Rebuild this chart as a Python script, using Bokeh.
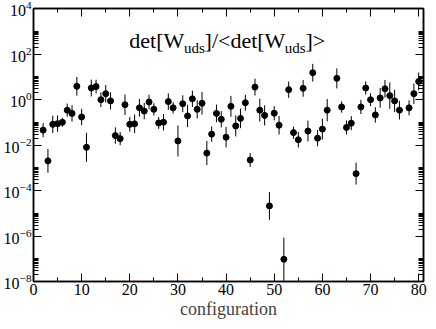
from bokeh.plotting import figure
from bokeh.models import FixedTicker, LinearAxis, LogAxis, Label, ColumnDataSource, CustomLabelingPolicy
from bokeh.embed import file_html
from bokeh.resources import INLINE

# configuration index
config = [2, 3, 4, 5, 6, 7, 8, 9, 10, 11, 12, 13, 14, 15, 16, 17, 18, 19, 20, 21,
          22, 23, 24, 25, 26, 27, 28, 29, 30, 31, 32, 33, 34, 35, 36, 37, 38, 39, 40, 41,
          42, 43, 44, 45, 46, 47, 48, 49, 50, 51, 52, 53, 54, 55, 56, 57, 58, 59, 60, 61,
          63, 64, 65, 66, 67, 68, 69, 70, 71, 72, 73, 74, 75, 76, 78, 79, 80]
# det[W_uds]/<det[W_uds]>
ratio = [0.045, 0.002, 0.081, 0.087, 0.10, 0.34, 0.245, 3.8, 0.17, 0.0079, 3.2, 3.7, 0.98, 1.8, 0.87, 0.026, 0.019, 0.59, 0.081, 0.085,
         0.43, 0.31, 0.78, 0.37, 0.093, 0.10, 0.81, 0.43, 0.015, 0.65, 0.19, 1.07, 0.37, 0.68, 0.0044, 0.030, 0.245, 0.135, 0.022, 0.50,
         0.069, 0.148, 0.72, 0.0022, 3.5, 0.34, 0.20, 2.1e-5, 0.25, 0.074, 9.5e-8, 2.7, 0.035, 0.017, 3.1, 0.041, 15.0, 0.020, 0.050, 0.34,
         8.5, 0.47, 0.059, 0.091, 0.00055, 0.47, 3.2, 0.98, 0.21, 1.17, 2.95, 1.48, 0.87, 0.34, 0.43, 1.8, 6.2]
# error half-length in decades
err_dec = [0.31, 0.52, 0.38, 0.36, 0.20, 0.29, 0.36, 0.41, 0.36, 0.64, 0.37, 0.30, 0.32, 0.38, 0.38, 0.36, 0.29, 0.45, 0.32, 0.41,
           0.39, 0.36, 0.32, 0.27, 0.26, 0.36, 0.36, 0.25, 0.68, 0.37, 0.49, 0.36, 0.40, 0.50, 0.53, 0.34, 0.39, 0.36, 0.45, 0.46,
           0.46, 0.43, 0.35, 0.31, 0.37, 0.50, 0.44, 0.61, 0.31, 0.41, 0.95, 0.36, 0.27, 0.34, 0.37, 0.46, 0.39, 0.36, 0.46, 0.49,
           0.44, 0.25, 0.31, 0.31, 0.48, 0.31, 0.29, 0.28, 0.34, 0.43, 0.39, 0.58, 0.49, 0.41, 0.33, 0.45, 0.39]

x_ticks = [0, 10, 20, 30, 40, 50, 60, 70, 80]
x_minor = [5, 15, 25, 35, 45, 55, 65, 75]
y_ticks = [1e-8, 1e-6, 1e-4, 1e-2, 1e0, 1e2, 1e4]
y_minor = [k * 10.0 ** n for n in range(-8, 4, 2) for k in range(2, 11)]

lo = [v / 10 ** e for v, e in zip(ratio, err_dec)]
hi = [v * 10 ** e for v, e in zip(ratio, err_dec)]
src = ColumnDataSource(dict(x=config, y=ratio, lo=lo, hi=hi))

FONT = "Liberation Serif"

p = figure(width=428, height=321, y_axis_type="log", x_range=(0, 81), y_range=(1e-8, 1e4),
           output_backend="svg", toolbar_location=None, x_axis_location=None, y_axis_location=None,
           min_border_left=24, min_border_right=5, min_border_top=8, min_border_bottom=30)
p.grid.visible = False
p.outline_line_color = "black"
p.outline_line_width = 1.5
p.background_fill_color = "white"
p.border_fill_color = "white"

NO_LABELS = "for (const i of Array.from(indices)) { indices.unset(i) }\nreturn indices"

def style(ax, labels=True):
    ax.axis_line_color = "black"
    ax.axis_line_width = 1.5
    ax.major_tick_in = 8
    ax.major_tick_out = 0
    ax.minor_tick_in = 4
    ax.minor_tick_out = 0
    ax.major_tick_line_color = "black"
    ax.minor_tick_line_color = "black"
    ax.major_label_text_font = FONT
    ax.major_label_text_color = "black"
    if labels:
        ax.major_label_text_font_size = "16px"
        ax.major_label_standoff = 2
    else:
        ax.major_label_text_font_size = "1px"
        ax.major_label_standoff = 0
        ax.major_label_policy = CustomLabelingPolicy(code=NO_LABELS)

xb = LinearAxis(ticker=FixedTicker(ticks=x_ticks, minor_ticks=x_minor))
style(xb)
xb.axis_label = "configuration"
xb.axis_label_text_font = FONT
xb.axis_label_text_font_style = "normal"
xb.axis_label_text_font_size = "18px"
xb.axis_label_standoff = 1
xt = LinearAxis(ticker=FixedTicker(ticks=x_ticks, minor_ticks=x_minor))
style(xt, labels=False)
yl = LogAxis(ticker=FixedTicker(ticks=y_ticks, minor_ticks=y_minor))
style(yl)
yl.minor_tick_in = 5
yr = LogAxis(ticker=FixedTicker(ticks=y_ticks, minor_ticks=y_minor))
style(yr, labels=False)
yr.minor_tick_in = 5
p.add_layout(xb, "below")
p.add_layout(xt, "above")
p.add_layout(yl, "left")
p.add_layout(yr, "right")

p.segment(x0="x", y0="lo", x1="x", y1="hi", source=src, line_color="black", line_width=1)
p.scatter(x="x", y="y", source=src, size=6, fill_color="black", line_color="black", marker="circle")

# title pieces: det[W_uds]/<det[W_uds]>
main_size, sub_size = "22px", "15px"
main_y, sub_y = 400, 178
pieces = [("det[W", 19.9, main_y, main_size), ("uds", 31.24, sub_y, sub_size),
          ("]/<det[W", 35.53, main_y, main_size), ("uds", 52.19, sub_y, sub_size),
          ("]>", 56.48, main_y, main_size)]
for t, xx, yy, fs in pieces:
    p.add_layout(Label(x=xx, y=yy, text=t, text_font=FONT, text_font_size=fs,
                       text_color="black", text_baseline="alphabetic", text_align="left"))

open("out.html", "w").write(file_html(p, INLINE))
